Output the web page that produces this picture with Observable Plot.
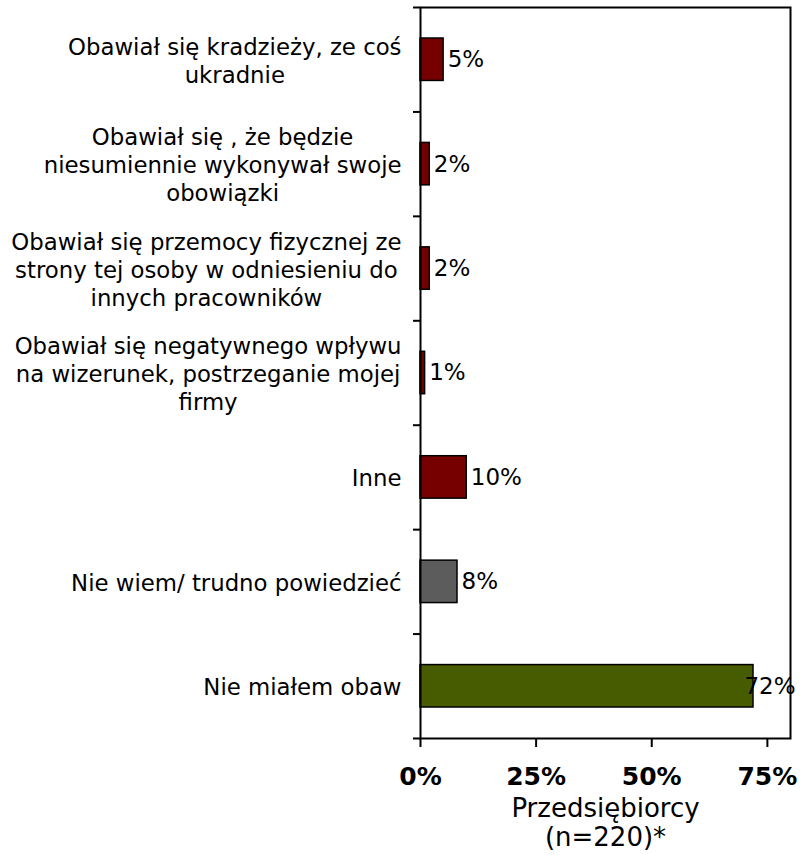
<!DOCTYPE html>
<html>
<head>
<meta charset="utf-8">
<script src="https://cdn.jsdelivr.net/npm/d3@7"></script>
<script src="https://cdn.jsdelivr.net/npm/@observablehq/plot@0.6"></script>
<style>
  html, body { margin: 0; padding: 0; background: white; }
</style>
</head>
<body>
<div id="chart"></div>
<script>
const categories = [
  "Obawiał się kradzieży, ze coś\nukradnie",
  "Obawiał się , że będzie\nniesumiennie wykonywał swoje\nobowiązki",
  "Obawiał się przemocy fizycznej ze\nstrony tej osoby w odniesieniu do\ninnych pracowników",
  "Obawiał się negatywnego wpływu\nna wizerunek, postrzeganie mojej\nfirmy",
  "Inne",
  "Nie wiem/ trudno powiedzieć",
  "Nie miałem obaw"
];
const values = [5, 2, 2, 1, 10, 8, 72];
const groups = ["obawa", "obawa", "obawa", "obawa", "obawa", "nie wiem", "brak obaw"];
const xTicks = [0, 25, 50, 75];
const axisTitle = "Przedsiębiorcy\n(n=220)*";

const data = categories.map((c, i) => ({category: c, i, value: values[i], group: groups[i]}));

const FONT = "DejaVu Sans";
const labelSize = 22.8;
const ctx = document.createElement("canvas").getContext("2d");
ctx.font = `${labelSize}px "${FONT}"`;
const blockWidth = (s) => Math.max(...s.split("\n").map(l => ctx.measureText(l).width));

const labelMarks = data.map(d => Plot.text([d], {
  y: d => d.i + 0.5,
  frameAnchor: "left",
  text: "category",
  textAnchor: "middle",
  lineAnchor: "middle",
  lineHeight: 28 / labelSize,
  dx: -(19 + blockWidth(d.category) / 2),
  fontSize: labelSize,
  fill: "black"
}));

const chart = Plot.plot({
  width: 800,
  height: 855,
  marginLeft: 420,
  marginRight: 10,
  marginTop: 7,
  marginBottom: 117,
  style: {fontFamily: FONT, background: "white", color: "black", overflow: "visible"},
  x: {domain: [0, 80]},
  y: {domain: [0, 7], reverse: true},
  color: {domain: ["obawa", "nie wiem", "brak obaw"], range: ["#760000", "#5c5c5c", "#475b00"]},
  marks: [
    Plot.rectX(data, {
      x1: 0, x2: "value", y1: "i", y2: d => d.i + 1,
      fill: "group", stroke: "black", strokeWidth: 1.5,
      insetTop: 31, insetBottom: 31
    }),
    Plot.text(data.filter(d => d.value <= 60), {
      x: "value", y: d => d.i + 0.5, text: d => d.value + "%",
      textAnchor: "start", dx: 4, fontSize: 23, fill: "black"
    }),
    Plot.text(data.filter(d => d.value > 60), {
      frameAnchor: "right", y: d => d.i + 0.5, text: d => d.value + "%",
      textAnchor: "end", dx: 5, fontSize: 23, fill: "black"
    }),
    ...labelMarks,
    Plot.axisY({ticks: d3.range(0, 8), tickSize: 7, tickFormat: () => "", strokeWidth: 2, label: null}),
    Plot.axisX({ticks: xTicks, tickSize: 9, tickPadding: 20, tickFormat: d => d + "%",
      fontSize: 25, fontWeight: "bold", strokeWidth: 2, label: null}),
    Plot.text([axisTitle], {
      frameAnchor: "bottom", text: d => d, lineAnchor: "bottom",
      dy: 107, lineHeight: 1.08, fontSize: 26, fill: "black"
    }),
    Plot.frame({stroke: "black", strokeWidth: 2})
  ]
});
document.getElementById("chart").appendChild(chart);
</script>
</body>
</html>
